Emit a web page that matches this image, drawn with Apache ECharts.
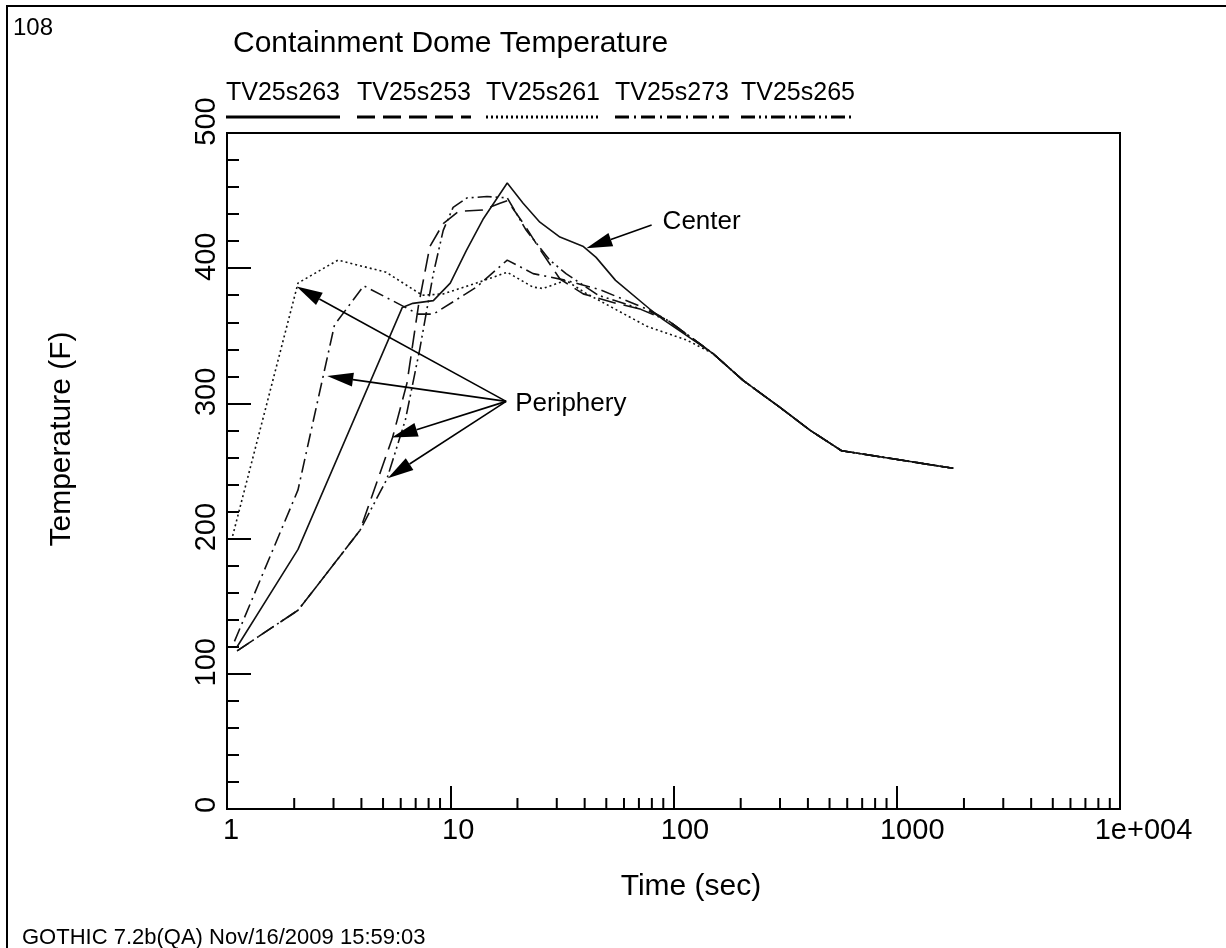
<!DOCTYPE html>
<html>
<head>
    <meta charset="utf-8"/>
    <title>Containment Dome Temperature</title>
    <script src="https://cdn.jsdelivr.net/npm/echarts@6/dist/echarts.min.js"></script>
    <style>
        html, body { margin: 0; padding: 0; background: #fff; }
        #chart { width: 1226px; height: 948px; }
    </style>
</head>
<body>
<div id="chart"></div>
<script type="text/javascript">
    var FONT = "'Liberation Sans', Arial, sans-serif";

    // axis ticks
    var xTickLabels = ['1', '10', '100', '1000', '1e+004'];
    var xMinorTicks = [2, 3, 4, 5, 6, 7, 8, 9,
        20, 30, 40, 50, 60, 70, 80, 90,
        200, 300, 400, 500, 600, 700, 800, 900,
        2000, 3000, 4000, 5000, 6000, 7000, 8000, 9000];

    // series names (legend order)
    var seriesNames = ['TV25s263', 'TV25s253', 'TV25s261', 'TV25s273', 'TV25s265'];

    // TV25s263 - solid (center)
    var time263 = [1.11, 2.08, 6.1, 6.8, 8.4, 10, 11.8, 14, 18, 21.2, 25.2, 31, 39.5, 45, 55, 78, 90, 150, 205, 300, 410, 566, 1790];
    var temp263 = [120, 192, 371, 374, 376, 389, 413, 436, 463, 448, 434, 423, 416, 408, 391, 370, 362, 337, 317, 297, 280, 265, 252];

    // TV25s253 - long dash
    var time253 = [1.11, 2.08, 3.94, 5.52, 6.4, 7.2, 8.1, 9.3, 10.9, 14, 16.7, 18, 21.5, 25.2, 31, 39.4, 55.5, 78.5, 95, 150, 205, 300, 410, 566, 1790];
    var temp253 = [117, 147, 206, 275, 315, 372, 416, 433, 442, 443, 448, 450, 432, 414, 392, 381, 374, 368, 361, 337, 317, 297, 280, 265, 252];

    // TV25s261 - dotted
    var time261 = [1.06, 2.08, 3.14, 5.16, 7.5, 9.3, 13.1, 18, 23.5, 26, 33, 40, 53, 76, 114, 150, 205, 300, 410, 566, 1790];
    var temp261 = [202, 389, 406, 397, 380, 381, 389, 397, 386, 385, 391, 382, 371, 357, 347, 337, 317, 297, 280, 265, 252];

    // TV25s273 - dash dot
    var time273 = [1.08, 2.08, 3.03, 4.1, 7.2, 8.4, 13.1, 18, 23.5, 33, 47, 78, 95, 150, 205, 300, 410, 566, 1790];
    var temp273 = [124, 236, 358, 387, 366, 366, 386, 406, 396, 391, 384, 369, 361, 337, 317, 297, 280, 265, 252];

    // TV25s265 - dash dot dot
    var time265 = [1.11, 2.08, 3.94, 5.2, 6.3, 7.3, 8.4, 9.3, 10.3, 11.9, 14.6, 18, 21.9, 27.9, 33, 46, 68, 95, 150, 205, 300, 410, 566, 1790];
    var temp265 = [117, 147, 206, 244, 288, 340, 396, 428, 445, 452, 453, 452, 428, 406, 396, 380, 371, 361, 337, 317, 297, 280, 265, 252];

    // annotations (data coords)
    var peripheryFrom = [17.8, 301.5];
    var peripheryTips = [[2.05, 386.5], [2.81, 320.3], [5.47, 274.7], [5.25, 244.7]];
    var centerFrom = [79.8, 432];
    var centerTip = [40.7, 414.7];

    var lineDashes = ['solid', [18, 8], [2, 3], [14, 5, 2, 5], [14, 4, 2, 4, 2, 4]];

    function pairs(t, v) {
        var out = [];
        for (var i = 0; i < t.length; i++) {
            out.push([t[i], v[i]]);
        }
        return out;
    }

    var seriesData = [
        pairs(time263, temp263),
        pairs(time253, temp253),
        pairs(time261, temp261),
        pairs(time273, temp273),
        pairs(time265, temp265)
    ];

    // tick label shift (labels sit a bit off-centre like the original plot)
    var rich = {};
    for (var n = 1; n <= 6; n++) {
        rich['p' + n] = {fontSize: 29, fontFamily: FONT, color: '#000', padding: [0, 0, 0, Math.round(7.8 * n)]};
    }

    var series = [];
    for (var s = 0; s < seriesNames.length; s++) {
        series.push({
            name: seriesNames[s],
            type: 'line',
            data: seriesData[s],
            symbol: 'none',
            lineStyle: {color: '#111', width: 1.6, type: lineDashes[s]},
            z: 3
        });
    }
    // minor ticks of the log axis
    series.push({
        name: 'minor',
        type: 'custom',
        silent: true,
        data: xMinorTicks.map(function (v) { return [v, 0]; }),
        renderItem: function (params, api) {
            var p = api.coord([api.value(0), 0]);
            return {
                type: 'line',
                shape: {x1: p[0], y1: p[1], x2: p[0], y2: p[1] - 11},
                style: {stroke: '#000', lineWidth: 2}
            };
        },
        z: 5
    });

    var myChart = echarts.init(document.getElementById('chart'));
    var option = {
        animation: false,
        backgroundColor: '#fff',
        title: {
            text: 'Containment Dome Temperature',
            left: 228,
            top: 24,
            textStyle: {fontSize: 30, fontWeight: 'normal', color: '#000', fontFamily: FONT}
        },
        grid: {
            left: 227, right: 106, top: 133, bottom: 139,
            show: true, borderColor: '#000', borderWidth: 2
        },
        xAxis: {
            type: 'log',
            logBase: 10,
            min: 1,
            max: 10000,
            name: 'Time (sec)',
            nameLocation: 'middle',
            nameGap: 63,
            nameTextStyle: {fontSize: 30, color: '#000', fontFamily: FONT, padding: [0, 0, 0, 35]},
            axisLine: {lineStyle: {color: '#000', width: 2}},
            axisTick: {inside: true, length: 23, lineStyle: {color: '#000', width: 2}},
            splitLine: {show: false},
            axisLabel: {
                margin: 7,
                formatter: function (v) {
                    var i = Math.round(Math.log(v) / Math.LN10);
                    var s = xTickLabels[i];
                    return '{p' + s.length + '|' + s + '}';
                },
                rich: rich
            }
        },
        yAxis: {
            type: 'value',
            min: 0,
            max: 500,
            interval: 100,
            name: 'Temperature (F)',
            nameLocation: 'middle',
            nameGap: 150,
            nameTextStyle: {fontSize: 30, color: '#000', fontFamily: FONT, padding: [0, 0, 0, 64]},
            axisLine: {lineStyle: {color: '#000', width: 2}},
            axisTick: {inside: true, length: 24, lineStyle: {color: '#000', width: 2}},
            minorTick: {show: true, splitNumber: 5, length: 12, lineStyle: {color: '#000', width: 2}},
            splitLine: {show: false},
            axisLabel: {
                rotate: 90,
                margin: 6,
                formatter: function (v) {
                    var s = String(v);
                    return '{p' + s.length + '|' + s + '}';
                },
                rich: rich
            }
        },
        series: series
    };
    myChart.setOption(option);

    // legend, annotations and page text
    var graphics = [];
    graphics.push({
        type: 'rect', silent: true,
        shape: {x: 7, y: 6, width: 1240, height: 960},
        style: {fill: 'none', stroke: '#000', lineWidth: 2}
    });
    graphics.push({
        type: 'text', left: 13, top: 16,
        style: {text: '108', fontSize: 24, fontFamily: FONT, fill: '#000'}
    });
    graphics.push({
        type: 'text', left: 22, top: 927,
        style: {text: 'GOTHIC 7.2b(QA) Nov/16/2009 15:59:03', fontSize: 22, fontFamily: FONT, fill: '#000'}
    });

    var legendX = [226, 357, 486, 615, 741];
    for (var k = 0; k < seriesNames.length; k++) {
        graphics.push({
            type: 'text', x: legendX[k], y: 93,
            style: {text: seriesNames[k], fontSize: 25, fontFamily: FONT, fill: '#000', verticalAlign: 'middle'}
        });
        graphics.push({
            type: 'line',
            shape: {x1: legendX[k], y1: 117, x2: legendX[k] + 114, y2: 117},
            style: {stroke: '#000', lineWidth: 3, lineDash: lineDashes[k] === 'solid' ? null : lineDashes[k]}
        });
    }

    function arrow(from, to) {
        var a = myChart.convertToPixel({gridIndex: 0}, from);
        var b = myChart.convertToPixel({gridIndex: 0}, to);
        var dx = b[0] - a[0], dy = b[1] - a[1];
        var len = Math.sqrt(dx * dx + dy * dy);
        var ux = dx / len, uy = dy / len;
        var L = 26, W = 7;
        var bx = b[0] - ux * L, by = b[1] - uy * L;
        graphics.push({
            type: 'line', z: 10,
            shape: {x1: a[0], y1: a[1], x2: bx, y2: by},
            style: {stroke: '#000', lineWidth: 1.6}
        });
        graphics.push({
            type: 'polygon', z: 10,
            shape: {points: [[b[0], b[1]], [bx - uy * W, by + ux * W], [bx + uy * W, by - ux * W]]},
            style: {fill: '#000'}
        });
    }

    for (var m = 0; m < peripheryTips.length; m++) {
        arrow(peripheryFrom, peripheryTips[m]);
    }
    arrow(centerFrom, centerTip);

    var pp = myChart.convertToPixel({gridIndex: 0}, peripheryFrom);
    graphics.push({
        type: 'text', x: pp[0] + 9, y: pp[1] + 2, z: 10,
        style: {text: 'Periphery', fontSize: 26, fontFamily: FONT, fill: '#000', verticalAlign: 'middle'}
    });
    var cp = myChart.convertToPixel({gridIndex: 0}, centerFrom);
    graphics.push({
        type: 'text', x: cp[0] + 11, y: cp[1] - 3, z: 10,
        style: {text: 'Center', fontSize: 26, fontFamily: FONT, fill: '#000', verticalAlign: 'middle'}
    });

    myChart.setOption({graphic: graphics});
</script>
</body>
</html>
